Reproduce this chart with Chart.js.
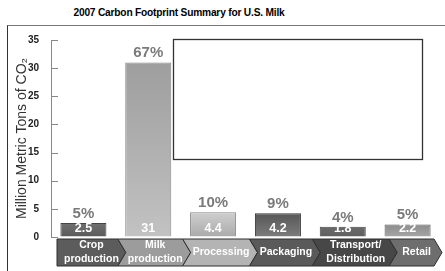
<!DOCTYPE html>
<html>
<head>
<meta charset="utf-8">
<script src="https://cdn.jsdelivr.net/npm/chart.js@4.4.1/dist/chart.umd.min.js"></script>
<style>
  body { margin: 0; background: #fff; }
  #wrap { position: relative; width: 445px; height: 271px; overflow: hidden; }
  #frame { position: absolute; left: 7px; top: 25px; width: 460px; height: 260px;
           border-top: 1px solid #777; border-left: 1px solid #333; }
  #title { position: absolute; left: 0; width: 358px; top: 7px; text-align: center;
           font: bold 10.2px "Liberation Sans", Arial, sans-serif; letter-spacing: -0.2px; color: #000; }
  canvas { position: absolute; left: 0; top: 0; }
</style>
</head>
<body>
<div id="wrap">
  <div id="frame"></div>
  <div id="title">2007 Carbon Footprint Summary for U.S. Milk</div>
  <canvas id="grafik" width="445" height="271"></canvas>
</div>
<script>
const stages = [["Crop", "production"], ["Milk", "production"], "Processing", "Packaging", ["Transport/", "Distribution"], "Retail"];
const tons = [2.5, 31, 4.4, 4.2, 1.8, 2.2];
const shares = ["5%", "67%", "10%", "9%", "4%", "5%"];
const yTicks = [0, 5, 10, 15, 20, 25, 30, 35];

// bar shading, top colour / bottom colour / edge
const barTop = ["#707070", "#9e9e9e", "#cfcfcf", "#575757", "#6a6a6a", "#8c8c8c"];
const barBottom = ["#5a5a5a", "#c2c2c2", "#aaaaaa", "#7c7c7c", "#5e5e5e", "#a6a6a6"];
const barEdge = ["#444", "#888", "#888", "#333", "#444", "#555"];
const arrowFill = ["#5c5c5c", "#9c9c9c", "#b4b4b4", "#5a5a5a", "#474747", "#6e6e6e"];
const tipOffset = [10, 10, 12, 10, 22];

const FONT = '"Liberation Sans", Arial, sans-serif';

function shade(ctx) {
  const chart = ctx.chart;
  const area = chart.chartArea;
  if (!area) return barTop[ctx.dataIndex];
  const y = chart.scales.y;
  const g = chart.ctx.createLinearGradient(0, y.getPixelForValue(tons[ctx.dataIndex]), 0, y.getPixelForValue(0));
  g.addColorStop(0, barTop[ctx.dataIndex]);
  g.addColorStop(1, barBottom[ctx.dataIndex]);
  return g;
}

const extras = {
  id: "extras",
  afterDraw(chart) {
    const c = chart.ctx;
    const x = chart.scales.x;
    const y = chart.scales.y;
    const area = chart.chartArea;
    c.save();

    // inward tick marks
    c.strokeStyle = "#888";
    c.lineWidth = 1;
    yTicks.forEach(v => {
      const py = Math.round(y.getPixelForValue(v)) + 0.5;
      c.beginPath();
      c.moveTo(area.left, py);
      c.lineTo(area.left + 7, py);
      c.stroke();
    });

    // percent + value labels
    const meta = chart.getDatasetMeta(0);
    meta.data.forEach((bar, i) => {
      c.textAlign = "center";
      c.textBaseline = "bottom";
      c.fillStyle = "#7a7a7a";
      c.font = "bold 15px " + FONT;
      c.fillText(shares[i], bar.x, bar.y - 2);
      c.textBaseline = "middle";
      c.fillStyle = "#fff";
      c.font = "bold 12.5px " + FONT;
      c.fillText(String(tons[i]), bar.x, y.getPixelForValue(0) - 8);
    });

    // stage arrows
    const top = 239, bot = 266, mid = (top + bot) / 2, d = 8;
    const half = (x.getPixelForValue(1) - x.getPixelForValue(0)) / 2;
    const tips = stages.map((s, i) => i < stages.length - 1 ? x.getPixelForValue(i) + half + tipOffset[i] : area.right + 2);
    stages.forEach((s, i) => {
      const l = i === 0 ? x.getPixelForValue(0) - half + 6 : tips[i - 1];
      const t = tips[i];
      c.beginPath();
      if (i === 0) {
        c.moveTo(l, top);
      } else {
        c.moveTo(l - d, top);
      }
      c.lineTo(t - d, top);
      c.lineTo(t, mid);
      c.lineTo(t - d, bot);
      if (i === 0) {
        c.lineTo(l, bot);
      } else {
        c.lineTo(l - d, bot);
        c.lineTo(l, mid);
      }
      c.closePath();
      c.fillStyle = arrowFill[i];
      c.fill();
      c.strokeStyle = "#2e2e2e";
      c.lineWidth = 1;
      c.stroke();

      const cx = i === 0 ? (l + t) / 2 : (l + t - d) / 2 + 1;
      c.fillStyle = "#fff";
      c.font = "bold 10.5px " + FONT;
      c.textAlign = "center";
      c.textBaseline = "middle";
      if (Array.isArray(s)) {
        c.fillText(s[0], cx, mid - 7);
        c.fillText(s[1], cx, mid + 7);
      } else {
        c.fillText(s, cx, mid);
      }
    });

    // empty panel
    c.fillStyle = "#fff";
    c.fillRect(173, 39, 249, 120);
    c.strokeStyle = "#333";
    c.lineWidth = 1.3;
    c.strokeRect(173.5, 39.5, 249, 120);
    c.restore();
  }
};

new Chart(document.getElementById("grafik"), {
  type: "bar",
  data: {
    labels: stages,
    datasets: [{
      data: tons,
      backgroundColor: shade,
      borderColor: barEdge,
      borderWidth: 1,
      barPercentage: 0.71,
      categoryPercentage: 1
    }]
  },
  options: {
    responsive: false,
    animation: false,
    layout: { padding: { top: 40, right: 5, left: 0, bottom: 0 } },
    plugins: { legend: { display: false }, tooltip: { enabled: false }, title: { display: false } },
    scales: {
      x: {
        ticks: { display: false },
        grid: { display: false },
        border: { display: false },
        afterFit(s) { s.height = 34; }
      },
      y: {
        min: 0,
        max: 35,
        ticks: { stepSize: 5, color: "#222", padding: 12, font: { family: FONT, size: 10, weight: "bold" } },
        grid: { drawOnChartArea: false, drawTicks: false },
        border: { display: true, color: "#888", width: 1 },
        title: {
          display: true,
          text: "Million Metric Tons of CO₂",
          color: "#333",
          font: { family: FONT, size: 14 },
          padding: { top: 14, bottom: 0 }
        },
        afterFit(s) { s.width = 51; }
      }
    }
  },
  plugins: [extras]
});
</script>
</body>
</html>
